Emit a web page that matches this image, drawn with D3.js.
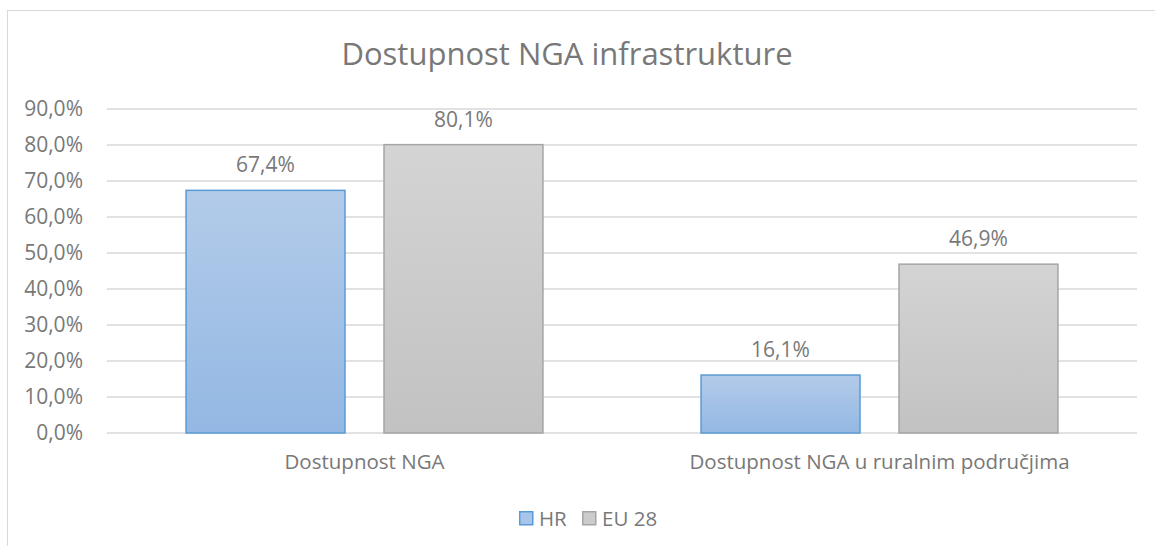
<!DOCTYPE html>
<html>
<head>
<meta charset="utf-8">
<script src="https://cdn.jsdelivr.net/npm/d3@7"></script>
<style>
  html, body { margin: 0; padding: 0; background: #fff; }
  svg text { font-family: "Open Sans", sans-serif; fill: #787878; }
</style>
</head>
<body>
<svg width="1155" height="546"></svg>
<script>
// data
var categories = ["Dostupnost NGA", "Dostupnost NGA u ruralnim područjima"];
var seriesNames = ["HR", "EU 28"];
var hrValues = [67.4, 16.1];
var euValues = [80.1, 46.9];
var yTicks = [0, 10, 20, 30, 40, 50, 60, 70, 80, 90];

var svg = d3.select("svg");
var margin = {top: 109, right: 18, bottom: 113, left: 107};
var width = 1155 - margin.left - margin.right,
    height = 546 - margin.top - margin.bottom;

// gradients
var defs = svg.append("defs");
var grads = [
  {id: "gHR", top: "#b3cbe9", bottom: "#93b8e3"},
  {id: "gEU", top: "#d4d4d4", bottom: "#c2c2c2"}
];
grads.forEach(function(g) {
  var lg = defs.append("linearGradient").attr("id", g.id)
    .attr("x1", 0).attr("y1", 0).attr("x2", 0).attr("y2", 1);
  lg.append("stop").attr("offset", "0%").attr("stop-color", g.top);
  lg.append("stop").attr("offset", "100%").attr("stop-color", g.bottom);
});
var fills = {"HR": "url(#gHR)", "EU 28": "url(#gEU)"};
var strokes = {"HR": "#5b9bd5", "EU 28": "#a5a5a5"};
var legendFills = {"HR": "#a9c6ea", "EU 28": "#cbcbcb"};

// chart border
svg.append("rect")
  .attr("x", 7.5).attr("y", 10.5)
  .attr("width", 1160).attr("height", 560)
  .attr("fill", "none").attr("stroke", "#d9d9d9");

// title
svg.append("text")
  .attr("x", 567).attr("y", 65)
  .attr("text-anchor", "middle")
  .style("font-size", "31px")
  .text("Dostupnost NGA infrastrukture");

var g = svg.append("g").attr("transform", "translate(" + margin.left + "," + margin.top + ")");

var y = d3.scaleLinear().domain([0, 90]).range([height, 0]);
var x0 = d3.scaleBand().domain(categories).range([0, width]).paddingInner(0.307).paddingOuter(0.1535);
var x1 = d3.scaleBand().domain(seriesNames).range([0, x0.bandwidth()]).paddingInner(0.197);

// grid
g.append("g").selectAll("line")
  .data(yTicks)
  .enter().append("line")
    .attr("x1", 0).attr("x2", width)
    .attr("y1", function(d) { return y(d); })
    .attr("y2", function(d) { return y(d); })
    .attr("stroke", "#d9d9d9").attr("stroke-width", 1.3);

// y axis labels
var yAxis = d3.axisLeft(y).tickValues(yTicks).tickSize(0).tickPadding(24)
  .tickFormat(function(d) { return d.toFixed(1).replace(".", ",") + "%"; });
g.append("g").call(yAxis)
  .call(function(a) { a.select(".domain").remove(); })
  .selectAll("text").style("font-size", "21px").attr("fill", null);

// bars
var rows = categories.map(function(c, i) {
  return {cat: c, vals: [{s: "HR", v: hrValues[i]}, {s: "EU 28", v: euValues[i]}]};
});
var grp = g.selectAll(".grp").data(rows).enter().append("g")
  .attr("transform", function(d) { return "translate(" + x0(d.cat) + ",0)"; });
grp.selectAll("rect").data(function(d) { return d.vals; })
  .enter().append("rect")
    .attr("x", function(d) { return x1(d.s); })
    .attr("y", function(d) { return y(d.v); })
    .attr("width", x1.bandwidth())
    .attr("height", function(d) { return height - y(d.v); })
    .attr("fill", function(d) { return fills[d.s]; })
    .attr("stroke", function(d) { return strokes[d.s]; })
    .attr("stroke-width", 1.5);
grp.selectAll(".lbl").data(function(d) { return d.vals; })
  .enter().append("text")
    .attr("x", function(d) { return x1(d.s) + x1.bandwidth() / 2; })
    .attr("y", function(d) { return y(d.v) - 18; })
    .attr("text-anchor", "middle")
    .style("font-size", "21px")
    .text(function(d) { return d.v.toFixed(1).replace(".", ",") + "%"; });

// x axis labels
var xAxis = d3.axisBottom(x0).tickSize(0).tickPadding(21);
g.append("g").attr("transform", "translate(0," + height + ")").call(xAxis)
  .call(function(a) { a.select(".domain").remove(); })
  .selectAll("text").style("font-size", "20.5px").attr("fill", null);

// legend
var legX = [519, 582];
var leg = svg.append("g").selectAll("g").data(seriesNames).enter().append("g")
  .attr("transform", function(d, i) { return "translate(" + legX[i] + ",511)"; });
leg.append("rect").attr("x", 0.75).attr("y", 0.75).attr("width", 13).attr("height", 13)
  .attr("fill", function(d) { return legendFills[d]; })
  .attr("stroke", function(d) { return strokes[d]; }).attr("stroke-width", 1.5);
leg.append("text").attr("x", 20).attr("y", 14.5)
  .style("font-size", "20.5px")
  .text(function(d) { return d; });
</script>
</body>
</html>
